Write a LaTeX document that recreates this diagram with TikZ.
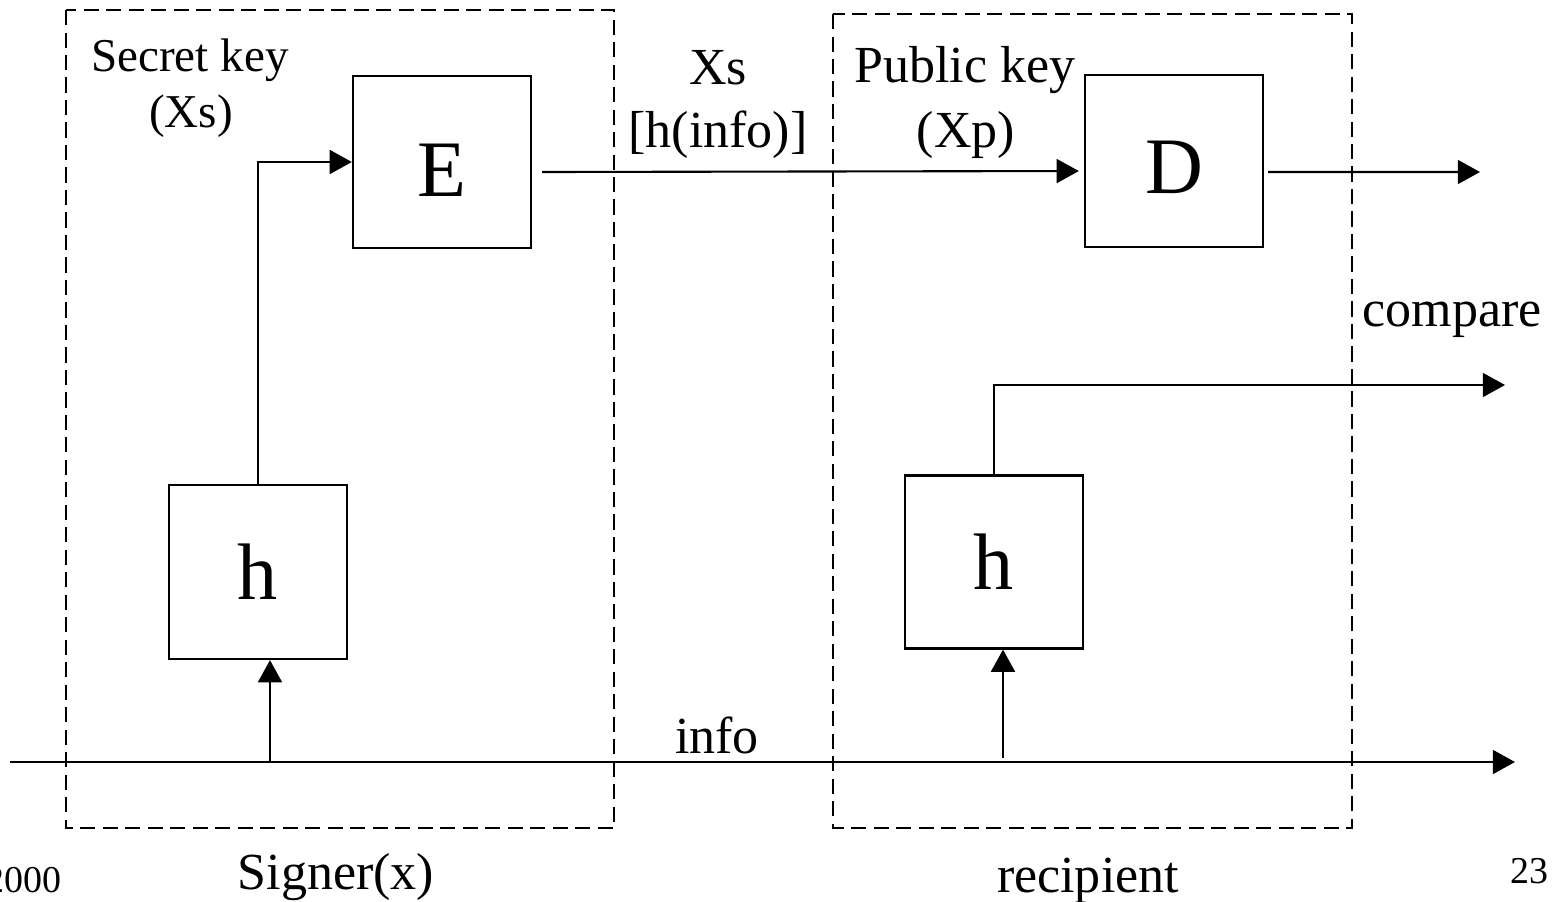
\documentclass[tikz,border=0pt]{standalone}
\usepackage{fontspec}
\setmainfont{Liberation Serif}
\usetikzlibrary{arrows.meta}

\tikzset{
  blk/.style={draw, line width=0.65pt, minimum width=1.78cm, minimum height=1.72cm, inner sep=0pt, font=\fontsize{22.8}{24}\selectfont},
  lbl/.style={inner sep=0pt, anchor=base, font=\fontsize{14.8}{16}\selectfont},
  keylbl/.style={lbl, font=\fontsize{13.4}{15}\selectfont},
  pagelbl/.style={lbl, font=\fontsize{10.8}{12}\selectfont},
  dashbox/.style={line width=0.6pt, dash pattern=on 4.3pt off 2.1pt},
  arr/.style={line width=0.6pt, -{Triangle[length=6.3pt,width=6.8pt]}},
  ln/.style={line width=0.6pt}
}
\newcommand{\lowered}[2]{\raisebox{-#1}[\height][0pt]{#2}}

\begin{document}
\begin{tikzpicture}[x=0.1mm, y=-0.1mm]
			%%%%% START %%%%%
			\useasboundingbox (0,0) rectangle (1556,902);
			
			% signer and recipient areas
			\draw[dashbox] (66,10) rectangle (614,828);
			\draw[dashbox] (833,14) rectangle (1352,828);
			
			% blocks
			\node[blk] (E) at (442,162) {\lowered{0.8mm}{E}};
			\node[blk] (D) at (1174,161) {\lowered{0.6mm}{D}};
			\node[blk, minimum height=1.74cm] (hL) at (258,572) {h};
			\node[blk, minimum height=1.73cm] (hR) at (994,562) {h};
			
			% free ends
			\coordinate (infoin) at (10,762);
			\coordinate (infoout) at (1515,762);
			\coordinate (tapL) at (270,762);
			\coordinate (tapR) at (1003,758);
			\coordinate (dout) at (1480,172);
			\coordinate (cmpout) at (1505,385);
			
			% connectors
			\draw[arr] (infoin) -- (infoout);
			\draw[arr] (tapL) -- (tapL |- hL.south);
			\draw[arr] (tapR) -- (tapR |- hR.south);
			\draw[arr] (hL.north) |- (E.west);
			\draw[arr, shorten >=0.5mm] ([xshift=1mm, yshift=-1mm]E.east) -- ([yshift=-1mm]D.west);
			\draw[arr] ([xshift=0.4mm, yshift=-1.1mm]D.east) -- (dout);
			\draw[arr] (hR.north) |- (cmpout);
			
			% labels
			\node[keylbl] (sk) at (190,71) {Secret key};
			\node[keylbl] (skx) at (191,127) {(Xs)};
			\node[lbl] (sig) at (718,84) {Xs};
			\node[lbl] (sigh) at (718,147) {[h(info)]};
			\node[lbl] (pk) at (965,82) {Public key};
			\node[lbl] (pkx) at (966,147) {(Xp)};
			\node[lbl] (cmp) at (1452,326) {compare};
			\node[lbl] (info) at (717,753) {info};
			\node[lbl] (signer) at (336,889) {Signer(x)};
			\node[lbl] (recip) at (1088,892) {recipient};
			\node[pagelbl, anchor=base east] (yr) at (62,892) {2000};
			\node[pagelbl] (pg) at (1529,883) {23};
			
			%%%%% END %%%%%
\end{tikzpicture}
\end{document}
